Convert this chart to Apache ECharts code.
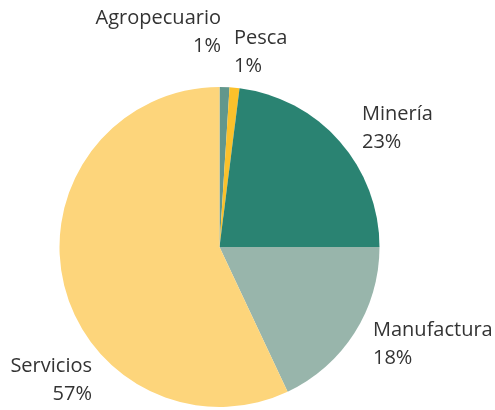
<!DOCTYPE html>
<html>
<head>
<meta charset="utf-8">
<script src="https://cdn.jsdelivr.net/npm/echarts@6/dist/echarts.min.js"></script>
<style>
  html, body { margin: 0; padding: 0; background: #fff; }
  #chart { width: 495px; height: 410px; }
</style>
</head>
<body>
<div id="chart"></div>
<script>
let sectors = ['Agropecuario', 'Pesca', 'Minería', 'Manufactura', 'Servicios'];
let shares = [1, 1, 23, 18, 57];
let colors = ['#62978c', '#fbc12b', '#2a8372', '#98b5ab', '#fdd57b'];

// where each label block sits (x, y of block centre, alignment)
let labelPos = [
    {x: 221, y: 32, align: 'right'},
    {x: 234, y: 52, align: 'left'},
    {x: 362, y: 128, align: 'left'},
    {x: 373, y: 344, align: 'left'},
    {x: 92, y: 380, align: 'right'}
];

let chart = echarts.init(document.getElementById('chart'));

let option = {
    animation: false,
    series: [
        {
            type: 'pie',
            center: [219.5, 247],
            radius: 160,
            startAngle: 90,
            clockwise: true,
            avoidLabelOverlap: false,
            label: {
                show: true,
                position: 'outside',
                formatter: '{b}\n{c}%',
                fontFamily: 'Open Sans',
                fontSize: 20,
                lineHeight: 28,
                color: '#333333'
            },
            labelLine: {show: false},
            labelLayout: function (params) {
                let p = labelPos[params.dataIndex];
                return {x: p.x, y: p.y, align: p.align, verticalAlign: 'middle'};
            },
            itemStyle: {borderWidth: 0},
            emphasis: {disabled: true},
            data: sectors.map(function (name, i) {
                return {name: name, value: shares[i], itemStyle: {color: colors[i]}};
            })
        }
    ]
};

chart.setOption(option);
</script>
</body>
</html>
